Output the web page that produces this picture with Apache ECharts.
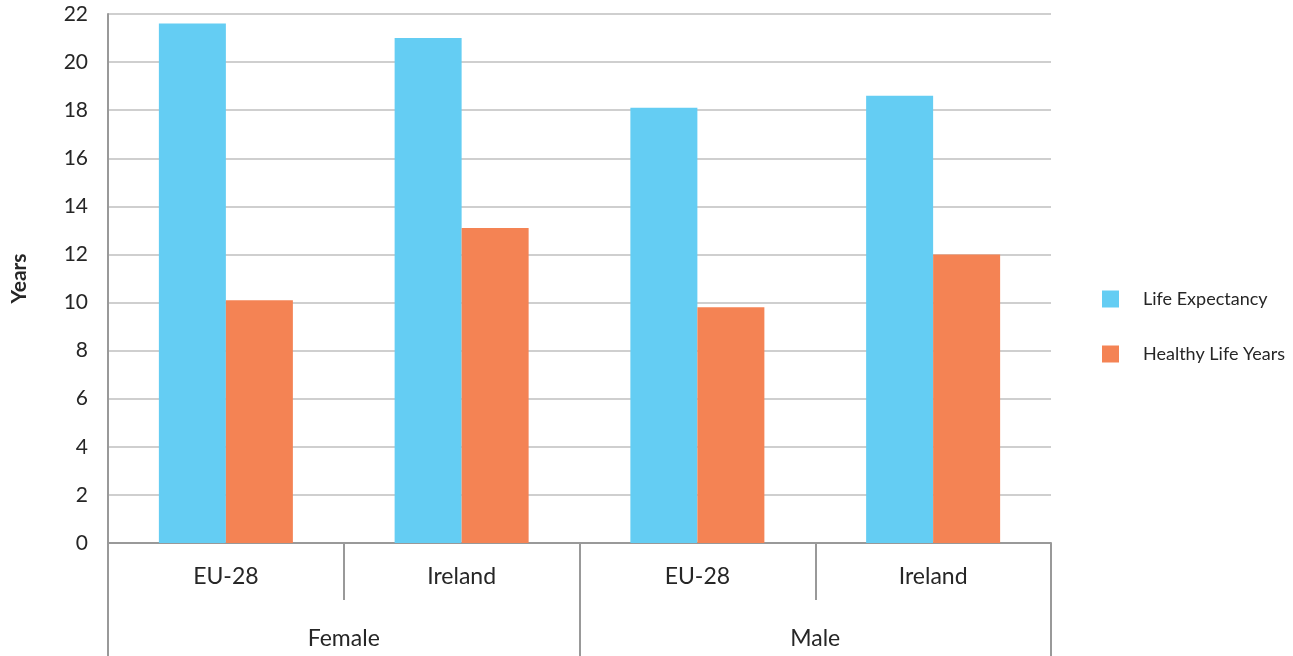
<!DOCTYPE html>
<html>
<head>
<meta charset="utf-8">
<script src="https://cdn.jsdelivr.net/npm/echarts@6/dist/echarts.min.js"></script>
<style>
  html, body { margin: 0; padding: 0; background: #fff; }
  #chart { width: 1293px; height: 656px; }
</style>
</head>
<body>
<div id="chart"></div>
<script>
  var countries = ['EU-28', 'Ireland', 'EU-28', 'Ireland'];
  var sexes = ['Female', 'Male'];
  var lifeExpectancy = [21.6, 21.0, 18.1, 18.6];
  var healthyLifeYears = [10.1, 13.1, 9.8, 12.0];

  var chart = echarts.init(document.getElementById('chart'));
  var textColor = '#262626';
  var font = 'Lato, "Open Sans", sans-serif';

  chart.setOption({
    animation: false,
    textStyle: { fontFamily: font },
    grid: { left: 108, right: 242, top: 14, bottom: 113 },
    legend: {
      orient: 'vertical',
      left: 1097,
      top: 285,
      itemWidth: 17,
      itemHeight: 17,
      itemGap: 37,
      icon: 'rect',
      textStyle: { fontSize: 18, color: textColor, fontFamily: font, padding: [0, 0, 0, 19] },
      data: ['Life Expectancy', 'Healthy Life Years']
    },
    xAxis: [
      {
        type: 'category',
        data: countries,
        position: 'bottom',
        axisLine: { show: true, lineStyle: { color: '#999', width: 2 } },
        axisTick: { show: true, interval: 0, length: 57, lineStyle: { color: '#999', width: 2 } },
        axisLabel: { fontSize: 23, color: textColor, margin: 22, fontFamily: font }
      },
      {
        type: 'category',
        data: sexes,
        position: 'bottom',
        axisLine: { show: false },
        axisTick: { show: true, interval: 0, length: 113, lineStyle: { color: '#999', width: 2 } },
        axisLabel: { fontSize: 23, color: textColor, margin: 84, fontFamily: font }
      }
    ],
    yAxis: {
      type: 'value',
      min: 0,
      max: 22,
      interval: 2,
      name: 'Years',
      nameLocation: 'middle',
      nameGap: 78,
      nameTextStyle: { fontSize: 21, fontWeight: 'bold', color: textColor, fontFamily: font },
      axisLine: { show: true, lineStyle: { color: '#999', width: 2 } },
      axisTick: { show: false },
      axisLabel: { fontSize: 21, color: textColor, margin: 20, fontFamily: font },
      splitLine: { lineStyle: { color: '#cfcfcf', width: 2 } }
    },
    series: [
      {
        name: 'Life Expectancy',
        type: 'bar',
        xAxisIndex: 0,
        data: lifeExpectancy,
        barWidth: 67,
        barGap: '0%',
        itemStyle: { color: '#64cdf3' }
      },
      {
        name: 'Healthy Life Years',
        type: 'bar',
        xAxisIndex: 0,
        data: healthyLifeYears,
        barWidth: 67,
        barGap: '0%',
        itemStyle: { color: '#f48354' }
      }
    ]
  });
</script>
</body>
</html>
